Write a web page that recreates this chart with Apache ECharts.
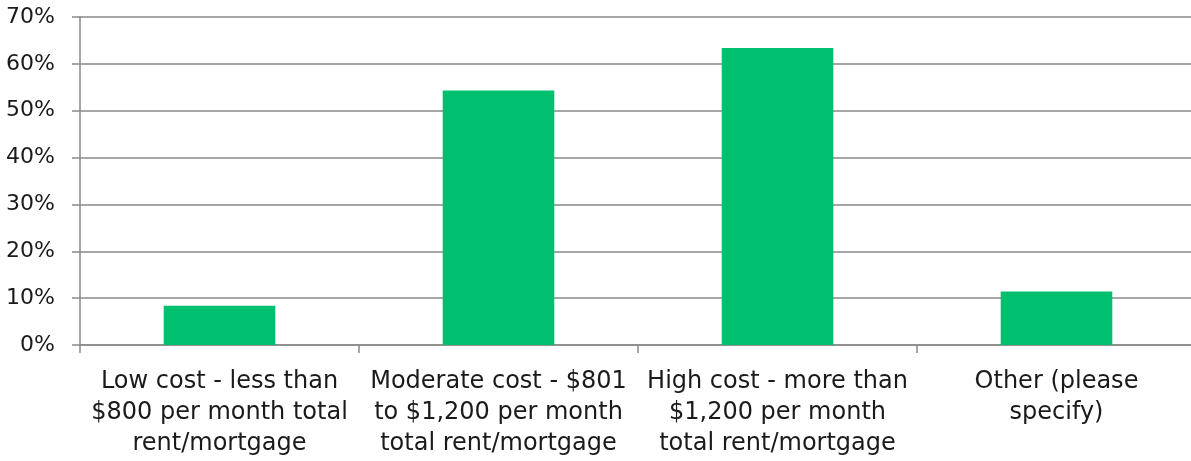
<!DOCTYPE html>
<html><head><meta charset="utf-8">
<script src="https://cdn.jsdelivr.net/npm/echarts@6/dist/echarts.min.js"></script>
<style>html,body{margin:0;padding:0;background:#fff;overflow:hidden}#c{width:1200px;height:461px}</style>
</head><body><div id="c"></div>
<script>
const categories = [
  "Low cost - less than\n$800 per month total\nrent/mortgage",
  "Moderate cost - $801\nto $1,200 per month\ntotal rent/mortgage",
  "High cost - more than\n$1,200 per month\ntotal rent/mortgage",
  "Other (please\nspecify)"
];
const values = [8.4, 54.3, 63.4, 11.4];
const yTicks = [0, 10, 20, 30, 40, 50, 60, 70];

const chart = echarts.init(document.getElementById('c'));
chart.setOption({
  animation: false,
  grid: {left: 80, right: 4, top: 17, height: 328, containLabel: false},
  xAxis: {
    type: 'category', data: categories,
    axisLine: {lineStyle: {color: '#898989', width: 1.5}},
    axisTick: {show: true, length: 8, alignWithLabel: false, lineStyle: {color: '#898989', width: 1.5}},
    axisLabel: {color: '#1a1a1a', fontSize: 24, fontFamily: '"DejaVu Sans", sans-serif', lineHeight: 31, margin: 21, interval: 0}
  },
  yAxis: {
    type: 'value', min: 0, max: 70, interval: 10,
    axisLine: {show: true, lineStyle: {color: '#898989', width: 1.5}},
    axisTick: {show: true, length: 8, lineStyle: {color: '#898989', width: 1.5}},
    splitLine: {lineStyle: {color: '#898989', width: 1.5}},
    axisLabel: {color: '#1a1a1a', fontSize: 22, fontFamily: '"DejaVu Sans", sans-serif', margin: 25,
      formatter: v => yTicks.includes(v) ? v + '%' : ''}
  },
  series: [{type: 'bar', data: values, barWidth: '40%', itemStyle: {color: '#00BF6F'}}]
});
</script></body></html>
